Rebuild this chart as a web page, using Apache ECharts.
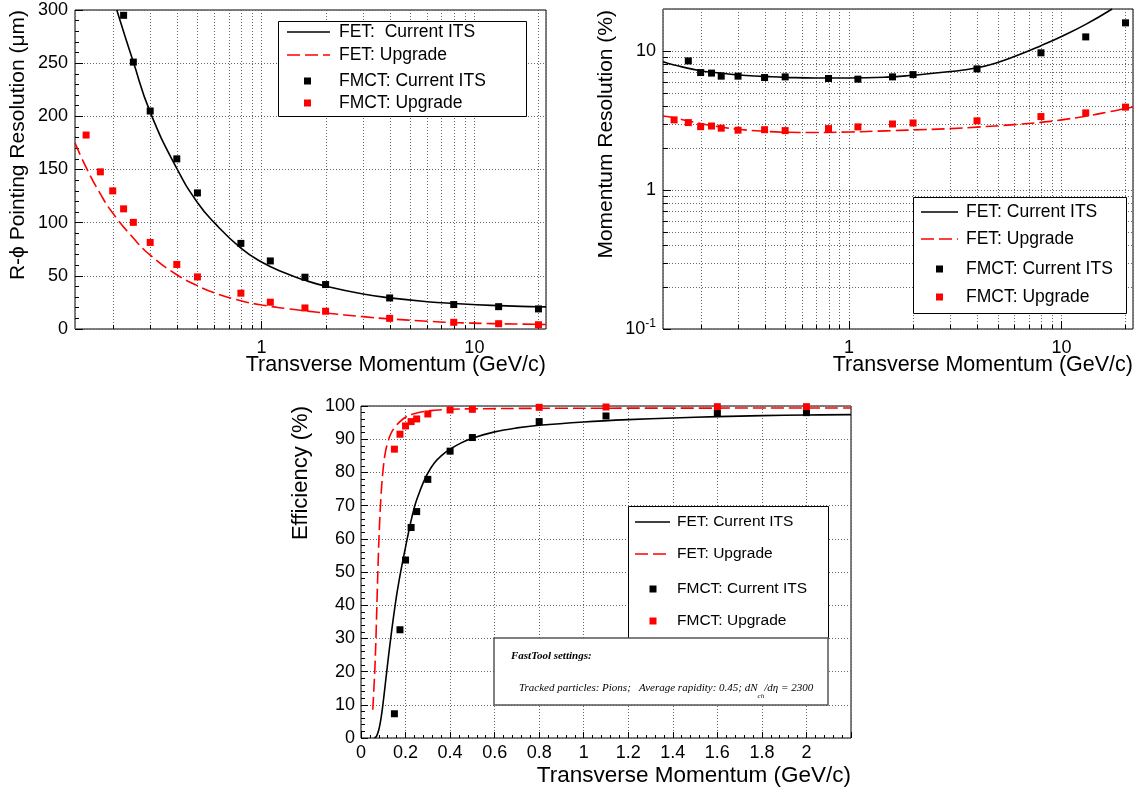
<!DOCTYPE html>
<html><head><meta charset="utf-8">
<script src="https://cdn.jsdelivr.net/npm/echarts@6/dist/echarts.min.js"></script>
<style>html,body{margin:0;padding:0;background:#fff}#c{width:1139px;height:792px}</style>
</head><body><div id="c"></div>
<script>
// ---------------- data ----------------
const ptBins = [0.15, 0.175, 0.2, 0.225, 0.25, 0.3, 0.4, 0.5, 0.8, 1.1, 1.6, 2, 4, 8, 13, 20];

// R-phi pointing resolution (um)
const pointingFmctCurrent = [null, null, null, 295, 251, 205, 160, 128, 80.5, 64, 48.7, 41.8, 29.2, 23, 21, 18.9];
const pointingFmctUpgrade = [182.4, 147.8, 129.9, 113, 100.3, 81.4, 60.7, 49, 33.7, 25.2, 19.8, 16.7, 10, 6.3, 5, 4];
const pointingFetCurrentPt  = [0.209, 0.25, 0.3, 0.4, 0.5, 0.6, 0.8, 1, 1.3, 1.6, 2, 3, 4, 6, 8, 12, 20, 21.7];
const pointingFetCurrentVal = [300, 251, 204, 151, 119, 100, 76, 63, 52.4, 45.8, 40.3, 32.9, 29.3, 25.7, 24, 22.2, 20.9, 20.8];
const pointingFetUpgradePt  = [0.133, 0.15, 0.175, 0.2, 0.25, 0.3, 0.4, 0.5, 0.6, 0.8, 1, 1.3, 1.6, 2, 3, 4, 6, 8, 12, 20, 21.7];
const pointingFetUpgradeVal = [175, 152, 127, 109, 85.5, 69.5, 51, 40.8, 34, 26.6, 22.6, 19.3, 17.1, 15, 11.6, 9.5, 7.3, 6.1, 5.1, 4.4, 4.3];

// momentum resolution (%)
const momFmctCurrent = [null, 8.47, 6.98, 6.92, 6.58, 6.58, 6.43, 6.5, 6.33, 6.26, 6.5, 6.75, 7.42, 9.68, 12.6, 15.9];
const momFmctUpgrade = [3.19, 3.05, 2.85, 2.88, 2.78, 2.69, 2.71, 2.67, 2.76, 2.84, 2.98, 3.03, 3.14, 3.37, 3.58, 3.94];
const momFetCurrentPt  = [0.133, 0.15, 0.2, 0.25, 0.3, 0.4, 0.5, 0.7, 1, 1.5, 2, 3, 4, 5, 6, 8, 10, 13, 17.3];
const momFetCurrentVal = [8.35, 7.92, 7.2, 6.93, 6.7, 6.55, 6.45, 6.38, 6.38, 6.47, 6.68, 7.1, 7.55, 8.25, 9.1, 10.9, 12.7, 15.5, 20];
const momFetUpgradePt  = [0.133, 0.15, 0.2, 0.25, 0.3, 0.4, 0.5, 0.7, 1, 1.5, 2, 3, 4, 6, 8, 10, 13, 17, 20, 21.7];
const momFetUpgradeVal = [3.4, 3.3, 3.0, 2.83, 2.73, 2.64, 2.6, 2.59, 2.61, 2.66, 2.7, 2.76, 2.83, 2.95, 3.06, 3.19, 3.39, 3.66, 3.85, 3.95];

// efficiency (%)
const effPt = [0.15, 0.175, 0.2, 0.225, 0.25, 0.3, 0.4, 0.5, 0.8, 1.1, 1.6, 2];
const effFmctCurrent = [7.3, 32.6, 53.6, 63.4, 68.2, 77.9, 86.4, 90.5, 95.3, 97, 97.8, 98];
const effFmctUpgrade = [87, 91.5, 94, 95.3, 96.1, 97.6, 98.8, 99, 99.6, 99.7, 99.8, 99.8];
const effFetCurrentPt  = [0.06, 0.07, 0.08, 0.09, 0.1, 0.11, 0.12, 0.13, 0.14, 0.15, 0.16, 0.17, 0.18, 0.2, 0.22, 0.24, 0.26, 0.28, 0.3, 0.33, 0.36, 0.4, 0.45, 0.5, 0.6, 0.7, 0.8, 1.0, 1.2, 1.4, 1.6, 1.8, 2.0, 2.2];
const effFetCurrentVal = [0, 0.6, 2.5, 6, 11, 16.8, 22.6, 28.2, 33.5, 38.4, 43, 47, 50.7, 57.5, 64, 69.6, 73.6, 77, 79.8, 82.9, 85, 87, 88.9, 90.3, 92.2, 93.4, 94.2, 95.2, 95.9, 96.4, 96.8, 97.1, 97.3, 97.4];
const effFetUpgradePt  = [0.053, 0.058, 0.063, 0.068, 0.073, 0.078, 0.083, 0.09, 0.098, 0.108, 0.12, 0.135, 0.153, 0.175, 0.2, 0.23, 0.27, 0.33, 0.4, 0.5, 0.8, 1.2, 2.2];
const effFetUpgradeVal = [8.5, 15, 22, 32, 44, 55, 64, 73, 80, 85.5, 89, 91.8, 93.7, 95.3, 96.6, 97.5, 98.2, 98.7, 99, 99.15, 99.3, 99.35, 99.4];

// axis tick values
const logMinorX = [0.2, 0.3, 0.4, 0.5, 0.6, 0.7, 0.8, 0.9, 2, 3, 4, 5, 6, 7, 8, 9, 20];
const logMinorY = [0.2, 0.3, 0.4, 0.5, 0.6, 0.7, 0.8, 0.9, 2, 3, 4, 5, 6, 7, 8, 9];

const legendLabels1 = ['FET:  Current ITS', 'FET: Upgrade', 'FMCT: Current ITS', 'FMCT: Upgrade'];
const legendLabels = ['FET: Current ITS', 'FET: Upgrade', 'FMCT: Current ITS', 'FMCT: Upgrade'];

// ---------------- helpers ----------------
const zip = (a, b) => a.map((v, i) => [v, b[i]]);
const zipNN = (a, b) => a.map((v, i) => [v, b[i]]).filter(p => p[1] != null);
const FF = 'Liberation Sans, Arial, Helvetica, sans-serif';
const RED = '#ff0000';
const gridLine = { show: true, lineStyle: { color: '#666', width: 1, type: [1, 2] } };

function lineSeries(g, data, color, dashed, smooth) {
  return { type: 'line', xAxisIndex: g, yAxisIndex: g, data, symbol: 'none', smooth: smooth,
    lineStyle: { color, width: 1.6, type: dashed ? [13, 5] : 'solid' }, z: 5, silent: true, animation: false };
}
function scatterSeries(g, data, color) {
  return { type: 'scatter', xAxisIndex: g, yAxisIndex: g, data, symbol: 'rect', symbolSize: 7,
    itemStyle: { color, opacity: 1 }, z: 6, silent: true, animation: false };
}
function minorLines(g, axis, values, ref) {
  return { type: 'custom', xAxisIndex: g, yAxisIndex: g, silent: true, z: 1, clip: false, animation: false,
    data: values.map(v => axis === 'x' ? [v, ref] : [ref, v]),
    encode: { x: 0, y: 1 },
    renderItem: (params, api) => {
      const cs = params.coordSys;
      const p = api.coord([api.value(0), api.value(1)]);
      if (axis === 'x') {
        const x = Math.round(p[0]) + 0.5;
        return { type: 'group', children: [
          { type: 'line', shape: { x1: x, y1: cs.y, x2: x, y2: cs.y + cs.height }, style: { stroke: '#666', lineWidth: 1, lineDash: [1, 2] } },
          { type: 'line', shape: { x1: x, y1: cs.y + cs.height, x2: x, y2: cs.y + cs.height - 4 }, style: { stroke: '#000', lineWidth: 1 } }
        ] };
      }
      const y = Math.round(p[1]) + 0.5;
      return { type: 'group', children: [
        { type: 'line', shape: { x1: cs.x, y1: y, x2: cs.x + cs.width, y2: y }, style: { stroke: '#666', lineWidth: 1, lineDash: [1, 2] } },
        { type: 'line', shape: { x1: cs.x, y1: y, x2: cs.x + 5, y2: y }, style: { stroke: '#000', lineWidth: 1 } }
      ] };
    } };
}
function txt(x, y, text, size, opts) {
  opts = opts || {};
  return { type: 'text', x, y, rotation: opts.rot || 0, z: 110,
    style: { text, fontSize: size, fontFamily: opts.ff || FF, fontStyle: opts.style || 'normal', fontWeight: opts.weight || 'normal',
      fill: '#000', align: opts.align || 'left', verticalAlign: opts.va || 'middle',
      textAlign: opts.align || 'left', textVerticalAlign: opts.va || 'middle', rich: opts.rich } };
}
function legendBox(box, rows, labels, fs, sx1, sx2, mx, tx) {
  const els = [{ type: 'rect', z: 100, shape: { x: box[0] + 0.5, y: box[1] + 0.5, width: box[2], height: box[3] }, style: { fill: '#fff', stroke: '#000', lineWidth: 1 } }];
  els.push({ type: 'line', z: 105, shape: { x1: sx1, y1: rows[0], x2: sx2, y2: rows[0] }, style: { stroke: '#000', lineWidth: 1.6 } });
  els.push({ type: 'line', z: 105, shape: { x1: sx1, y1: rows[1], x2: sx2, y2: rows[1] }, style: { stroke: RED, lineWidth: 1.6, lineDash: [13, 5] } });
  els.push({ type: 'rect', z: 105, shape: { x: mx - 3.5, y: rows[2] - 3.5, width: 7, height: 7 }, style: { fill: '#000' } });
  els.push({ type: 'rect', z: 105, shape: { x: mx - 3.5, y: rows[3] - 3.5, width: 7, height: 7 }, style: { fill: RED } });
  labels.forEach((l, i) => els.push(txt(tx, rows[i], l, fs)));
  return els;
}

const axisLbl = (extra) => Object.assign({ color: '#000', fontSize: 18, fontFamily: FF }, extra);
const logLbl = v => (Math.abs(v - 1) < 1e-6 ? '1' : Math.abs(v - 10) < 1e-5 ? '10' : '');

const option = {
  animation: false,
  backgroundColor: '#fff',
  grid: [
    { left: 75, top: 10, width: 471, height: 319, show: true, borderColor: '#000', borderWidth: 1, backgroundColor: 'transparent', containLabel: false, outerBoundsMode: 'none' },
    { left: 663, top: 9, width: 470, height: 320, show: true, borderColor: '#000', borderWidth: 1, backgroundColor: 'transparent', containLabel: false, outerBoundsMode: 'none' },
    { left: 361, top: 406, width: 490, height: 332, show: true, borderColor: '#000', borderWidth: 1, backgroundColor: 'transparent', containLabel: false, outerBoundsMode: 'none' }
  ],
  xAxis: [
    { type: 'log', gridIndex: 0, min: 0.133, max: 21.7, logBase: 10,
      axisLine: { show: false }, axisTick: { inside: true, length: 8, lineStyle: { color: '#000' } },
      axisLabel: axisLbl({ margin: 10, showMinLabel: false, showMaxLabel: false, formatter: logLbl }),
      splitLine: gridLine },
    { type: 'log', gridIndex: 1, min: 0.133, max: 21.7, logBase: 10,
      axisLine: { show: false }, axisTick: { inside: true, length: 8, lineStyle: { color: '#000' } },
      axisLabel: axisLbl({ margin: 10, showMinLabel: false, showMaxLabel: false, formatter: logLbl }),
      splitLine: gridLine },
    { type: 'value', gridIndex: 2, min: 0, max: 2.2, interval: 0.2,
      axisLine: { show: false }, axisTick: { inside: true, length: 6, lineStyle: { color: '#000' } },
      minorTick: { show: true, splitNumber: 5, length: 3, lineStyle: { color: '#000' } },
      axisLabel: axisLbl({ margin: 6, showMaxLabel: false }),
      splitLine: gridLine }
  ],
  yAxis: [
    { type: 'value', gridIndex: 0, min: 0, max: 300, interval: 50,
      axisLine: { show: false }, axisTick: { inside: true, length: 8, lineStyle: { color: '#000' } },
      minorTick: { show: true, splitNumber: 5, length: 4, lineStyle: { color: '#000' } },
      axisLabel: axisLbl({ margin: 7 }), splitLine: gridLine },
    { type: 'log', gridIndex: 1, min: 0.1, max: 20, logBase: 10,
      axisLine: { show: false }, axisTick: { inside: true, length: 8, lineStyle: { color: '#000' } },
      axisLabel: axisLbl({ margin: 7, showMaxLabel: false,
        formatter: v => (Math.abs(v - 0.1) < 1e-6 ? '{b|10}{s|-1}' : logLbl(v)),
        rich: { b: { fontSize: 18, fontFamily: FF, color: '#000', lineHeight: 22 }, s: { fontSize: 12, fontFamily: FF, color: '#000', verticalAlign: 'top', lineHeight: 22 } } }),
      splitLine: gridLine },
    { type: 'value', gridIndex: 2, min: 0, max: 100, interval: 10,
      axisLine: { show: false }, axisTick: { inside: true, length: 7, lineStyle: { color: '#000' } },
      minorTick: { show: true, splitNumber: 5, length: 4, lineStyle: { color: '#000' } },
      axisLabel: axisLbl({ margin: 6 }), splitLine: gridLine }
  ],
  series: [
    minorLines(0, 'x', logMinorX, 150),
    minorLines(1, 'x', logMinorX, 1),
    minorLines(1, 'y', logMinorY, 1),
    lineSeries(0, zip(pointingFetCurrentPt, pointingFetCurrentVal), '#000', false, 0.5),
    lineSeries(0, zip(pointingFetUpgradePt, pointingFetUpgradeVal), RED, true, 0.5),
    scatterSeries(0, zipNN(ptBins, pointingFmctCurrent), '#000'),
    scatterSeries(0, zipNN(ptBins, pointingFmctUpgrade), RED),
    lineSeries(1, zip(momFetCurrentPt, momFetCurrentVal), '#000', false, 0.5),
    lineSeries(1, zip(momFetUpgradePt, momFetUpgradeVal), RED, true, 0.5),
    scatterSeries(1, zipNN(ptBins, momFmctCurrent), '#000'),
    scatterSeries(1, zipNN(ptBins, momFmctUpgrade), RED),
    lineSeries(2, zip(effFetCurrentPt, effFetCurrentVal), '#000', false, 0.4),
    lineSeries(2, zip(effFetUpgradePt, effFetUpgradeVal), RED, true, 0.4),
    scatterSeries(2, zip(effPt, effFmctCurrent), '#000'),
    scatterSeries(2, zip(effPt, effFmctUpgrade), RED)
  ],
  graphic: [].concat(
    legendBox([278, 21, 248, 95], [32, 55, 81, 103], legendLabels1, 17.5, 287, 330, 307.5, 339),
    legendBox([913, 197, 213, 116], [212, 239, 269, 297], legendLabels, 17.5, 921, 958, 939.5, 966),
    legendBox([628, 506, 200, 132], [522, 554, 589, 621], legendLabels, 15.5, 635, 670, 653, 677),
    [
      { type: 'rect', z: 100, shape: { x: 494, y: 638, width: 334, height: 67 }, style: { fill: '#fff', stroke: '#555', lineWidth: 1.5 } },
      txt(511, 656, 'FastTool settings:', 11, { ff: 'Liberation Serif, Times New Roman, serif', style: 'italic', weight: 'bold' }),
      txt(519, 688, '{n|Tracked particles: Pions;   Average rapidity: 0.45; dN}{sub|ch}{n|/dη = 2300}', 11, {
        ff: 'Liberation Serif, Times New Roman, serif', style: 'italic',
        rich: { n: { fontSize: 11, fontStyle: 'italic', fontFamily: 'Liberation Serif, serif', lineHeight: 24, verticalAlign: 'middle' },
                sub: { fontSize: 7, fontStyle: 'italic', fontFamily: 'Liberation Serif, serif', lineHeight: 24, verticalAlign: 'bottom' } } }),
      // axis titles
      txt(546, 365, 'Transverse Momentum (GeV/c)', 21.5, { align: 'right' }),
      txt(1133, 365, 'Transverse Momentum (GeV/c)', 21.5, { align: 'right' }),
      txt(851, 776, 'Transverse Momentum (GeV/c)', 22.5, { align: 'right' }),
      txt(18, 10, 'R-ϕ Pointing Resolution (μm)', 21, { align: 'right', rot: Math.PI / 2 }),
      txt(606, 10, 'Momentum Resolution (%)', 21, { align: 'right', rot: Math.PI / 2 }),
      txt(301, 406, 'Efficiency (%)', 22, { align: 'right', rot: Math.PI / 2 })
    ]
  )
};

const chart = echarts.init(document.getElementById('c'), null, { renderer: 'canvas' });
chart.setOption(option);
</script>
</body></html>
